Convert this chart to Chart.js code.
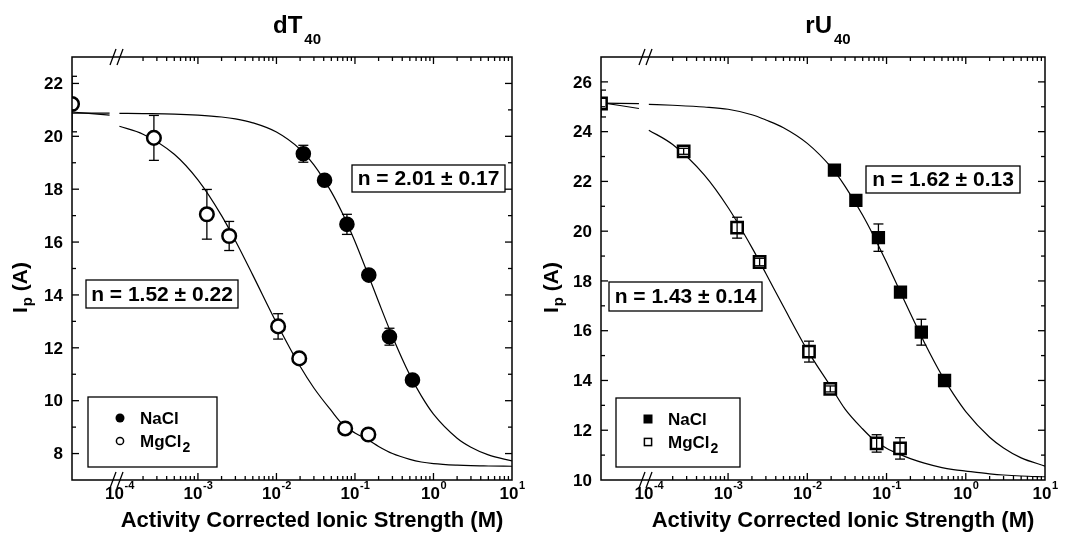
<!DOCTYPE html>
<html>
<head>
<meta charset="utf-8">
<script src="https://cdn.jsdelivr.net/npm/chart.js@4/dist/chart.umd.min.js"></script>
<style>
  html, body { margin: 0; padding: 0; background: #fff; }
  #wrap { position: relative; width: 1066px; height: 535px; overflow: hidden; }
  canvas { position: absolute; top: 0; }
  #c1 { left: 0; }
  #c2 { left: 533px; }
</style>
</head>
<body>
<div id="wrap">
  <canvas id="c1" width="545" height="535"></canvas>
  <canvas id="c2" width="533" height="535"></canvas>
</div>
<script>
// ionic strength of the measured points (M); first MgCl2 point is the no-salt value at the axis break
const naclX = [0.022, 0.041, 0.079, 0.15, 0.275, 0.54];
const mgX = [2.49e-5, 2.75e-4, 1.3e-3, 2.5e-3, 0.0105, 0.0195, 0.075, 0.148];

// dT40
const dtNaclY = [19.34, 18.34, 16.67, 14.75, 12.42, 10.78];
const dtNaclErr = [0.32, 0.12, 0.38, 0.12, 0.32, 0.12];
const dtMgY = [21.22, 19.94, 17.05, 16.23, 12.81, 11.60, 8.95, 8.72];
const dtMgErr = [1.05, 0.85, 0.94, 0.55, 0.48, 0.15, 0.18, 0.18];

// rU40
const ruNaclY = [22.45, 21.24, 19.74, 17.55, 15.94, 14.00];
const ruNaclErr = [0.15, 0.15, 0.55, 0.15, 0.52, 0.15];
const ruMgY = [25.13, 23.21, 20.14, 18.76, 15.16, 13.66, 11.47, 11.27];
const ruMgErr = [0.54, 0.12, 0.42, 0.15, 0.42, 0.12, 0.35, 0.43];

// fitted curves
const preX = [2.49e-5, 7.5e-5];
const fitX = [1e-4, 2e-4, 5e-4, 1e-3, 2e-3, 3e-3, 5e-3, 0.01, 0.02, 0.03, 0.05, 0.07, 0.1, 0.15, 0.2, 0.3, 0.5, 0.7, 1, 2, 3, 5, 10];
const dtNaclPre = [20.88, 20.88];
const dtMgPre = [20.92, 20.80];
const dtNaclFit = [20.87, 20.86, 20.84, 20.80, 20.73, 20.66, 20.51, 20.16, 19.51, 18.92, 17.90, 17.06, 16.02, 14.70, 13.74, 12.43, 10.97, 10.18, 9.49, 8.58, 8.24, 7.95, 7.72];
const dtMgFit = [20.38, 20.08, 19.32, 18.35, 17.00, 16.05, 14.75, 12.95, 11.30, 10.48, 9.62, 9.10, 8.78, 8.50, 8.27, 8.00, 7.78, 7.68, 7.62, 7.56, 7.54, 7.53, 7.52];
const ruNaclPre = [25.15, 25.13];
const ruMgPre = [25.17, 24.93];
const ruNaclFit = [25.10, 25.06, 24.99, 24.90, 24.68, 24.47, 24.16, 23.53, 22.57, 21.80, 20.64, 19.76, 18.75, 17.55, 16.69, 15.53, 14.20, 13.45, 12.75, 11.72, 11.29, 10.89, 10.56];
const ruMgFit = [24.06, 23.48, 22.26, 20.95, 19.34, 18.30, 16.97, 15.22, 13.73, 12.85, 12.05, 11.60, 11.28, 11.02, 10.86, 10.68, 10.50, 10.42, 10.36, 10.25, 10.20, 10.16, 10.13];

// ticks
const xDecades = [-4, -3, -2, -1, 0, 1];
const dtYTicks = [8, 10, 12, 14, 16, 18, 20, 22];
const ruYTicks = [10, 12, 14, 16, 18, 20, 22, 24, 26];

const FONT = '"Liberation Sans", Arial, sans-serif';

function pts(xs, ys) {
    return xs.map((x, i) => ({ x: x, y: ys[i] }));
}

function curve(pre, fit) {
    return pts(preX, pre).concat([{ x: 8.7e-5, y: null }], pts(fitX, fit));
}

function line(ctx, x1, y1, x2, y2) {
    ctx.beginPath();
    ctx.moveTo(x1, y1);
    ctx.lineTo(x2, y2);
    ctx.stroke();
}

function makePlugin(p) {
    function errorBars(chart) {
        const ctx = chart.ctx, a = chart.chartArea;
        const xs = chart.scales.x, ys = chart.scales.y;
        ctx.save();
        ctx.beginPath();
        ctx.rect(a.left, a.top, a.right - a.left, a.bottom - a.top);
        ctx.clip();
        ctx.strokeStyle = '#000';
        ctx.lineWidth = 1.3;
        [[naclX, p.naclY, p.naclErr], [mgX, p.mgY, p.mgErr]].forEach(([xv, yv, ev]) => {
            xv.forEach((x, i) => {
                const px = xs.getPixelForValue(x);
                const y1 = ys.getPixelForValue(yv[i] + ev[i]);
                const y2 = ys.getPixelForValue(yv[i] - ev[i]);
                line(ctx, px, y1, px, y2);
                line(ctx, px - 5, y1, px + 5, y1);
                line(ctx, px - 5, y2, px + 5, y2);
            });
        });
        ctx.restore();
    }

    return {
        id: 'panelDecor',
        beforeDatasetsDraw(chart) {
            if (!p.barsOnTop) errorBars(chart);
        },
        afterDatasetsDraw(chart) {
            const ctx = chart.ctx, a = chart.chartArea;
            if (p.barsOnTop) errorBars(chart);
            // the no-salt point sits on the left axis: keep only the part inside the frame
            ctx.save();
            ctx.fillStyle = '#fff';
            ctx.fillRect(0, a.top - 12, a.left - 0.5, a.bottom - a.top + 12);
            ctx.restore();
        },
        afterDraw(chart) {
            const ctx = chart.ctx, a = chart.chartArea;
            const xs = chart.scales.x, ys = chart.scales.y;
            ctx.save();
            ctx.strokeStyle = '#000';
            ctx.fillStyle = '#000';

            // frame
            ctx.lineWidth = 1.5;
            ctx.strokeRect(a.left, a.top, a.right - a.left, a.bottom - a.top);

            // y ticks, inward on both sides
            ctx.lineWidth = 1.3;
            for (let v = Math.floor(p.ymin) + 1; v < p.ymax; v++) {
                const py = ys.getPixelForValue(v);
                const len = v % 2 === 0 ? 7 : 4;
                line(ctx, a.left, py, a.left + len, py);
                line(ctx, a.right, py, a.right - len, py);
            }
            // x ticks, inward top and bottom
            xDecades.forEach(d => {
                if (d >= 1) return;
                for (let k = 1; k <= 9; k++) {
                    const v = k * Math.pow(10, d);
                    if (v < 1.5e-4) continue;
                    const px = xs.getPixelForValue(v);
                    const len = k === 1 ? 7 : 4;
                    line(ctx, px, a.bottom, px, a.bottom - len);
                    line(ctx, px, a.top, px, a.top + len);
                }
            });

            // axis break marks
            [a.top, a.bottom].forEach(y => {
                [41, 48].forEach(dx => {
                    line(ctx, a.left + dx - 3, y + 8, a.left + dx + 3, y - 8);
                });
            });

            // y tick labels
            ctx.font = 'bold 17px ' + FONT;
            ctx.textAlign = 'right';
            ctx.textBaseline = 'middle';
            p.yTicks.forEach(v => {
                ctx.fillText(String(v), a.left - 9, ys.getPixelForValue(v) + 1);
            });

            // x tick labels 10^n
            ctx.textAlign = 'left';
            ctx.textBaseline = 'alphabetic';
            xDecades.forEach(d => {
                const px = xs.getPixelForValue(Math.pow(10, d));
                ctx.font = 'bold 17px ' + FONT;
                const w1 = ctx.measureText('10').width;
                ctx.font = 'bold 11px ' + FONT;
                const w2 = ctx.measureText(String(d)).width;
                const x0 = px - (w1 + w2) / 2;
                ctx.font = 'bold 17px ' + FONT;
                ctx.fillText('10', x0, 499);
                ctx.font = 'bold 11px ' + FONT;
                ctx.fillText(String(d), x0 + w1 + 0.5, 489);
            });

            // x axis title
            ctx.font = 'bold 22px ' + FONT;
            ctx.textAlign = 'center';
            ctx.fillText('Activity Corrected Ionic Strength (M)', (a.left + a.right) / 2 + 20, 527);

            // title with subscript
            ctx.textAlign = 'left';
            ctx.font = 'bold 24px ' + FONT;
            const tw1 = ctx.measureText(p.title[0]).width;
            ctx.font = 'bold 15px ' + FONT;
            const tw2 = ctx.measureText(p.title[1]).width;
            const tx = (a.left + a.right) / 2 + 5 - (tw1 + tw2 + 2) / 2;
            ctx.font = 'bold 24px ' + FONT;
            ctx.fillText(p.title[0], tx, 33);
            ctx.font = 'bold 15px ' + FONT;
            ctx.fillText(p.title[1], tx + tw1 + 2, 44);

            // y axis title "Ip (A)"
            ctx.save();
            ctx.translate(p.yTitleX, 313);
            ctx.rotate(-Math.PI / 2);
            ctx.font = 'bold 21px ' + FONT;
            ctx.fillText('I', 0, 0);
            let yw = ctx.measureText('I').width + 1;
            ctx.font = 'bold 15px ' + FONT;
            ctx.fillText('p', yw, 5);
            yw += ctx.measureText('p').width;
            ctx.font = 'bold 21px ' + FONT;
            ctx.fillText(' (A)', yw, 0);
            ctx.restore();

            // boxed fit results
            p.boxes.forEach(b => {
                ctx.fillStyle = '#fff';
                ctx.fillRect(b.x, b.y, b.w, b.h);
                ctx.fillStyle = '#000';
                ctx.lineWidth = 1.3;
                ctx.strokeRect(b.x, b.y, b.w, b.h);
                ctx.font = 'bold 21px ' + FONT;
                ctx.textAlign = 'center';
                ctx.textBaseline = 'middle';
                ctx.fillText(b.text, b.x + b.w / 2, b.y + b.h / 2 + 1);
            });

            // legend
            const L = p.legend;
            ctx.fillStyle = '#fff';
            ctx.fillRect(L.x, L.y, L.w, L.h);
            ctx.fillStyle = '#000';
            ctx.lineWidth = 1.3;
            ctx.strokeRect(L.x, L.y, L.w, L.h);
            const rows = [L.y + 21, L.y + 44];
            rows.forEach((ry, i) => {
                const mx = L.x + 32;
                ctx.lineWidth = 1.5;
                if (p.style === 'circle') {
                    ctx.beginPath();
                    ctx.arc(mx, ry, i === 0 ? 4.5 : 3.6, 0, Math.PI * 2);
                    if (i === 0) ctx.fill(); else ctx.stroke();
                } else {
                    if (i === 0) ctx.fillRect(mx - 4.5, ry - 4.5, 9, 9);
                    else ctx.strokeRect(mx - 3.6, ry - 3.6, 7.2, 7.2);
                }
                ctx.textAlign = 'left';
                ctx.textBaseline = 'alphabetic';
                ctx.font = 'bold 17px ' + FONT;
                const tx0 = L.x + 52;
                if (i === 0) {
                    ctx.fillText('NaCl', tx0, ry + 6);
                } else {
                    ctx.fillText('MgCl', tx0, ry + 6);
                    const w = ctx.measureText('MgCl').width;
                    ctx.font = 'bold 14px ' + FONT;
                    ctx.fillText('2', tx0 + w + 1, ry + 11);
                }
            });
            ctx.restore();
        }
    };
}

function buildPanel(p) {
    const canvas = document.getElementById(p.canvas);
    const datasets = [
        {
            type: 'scatter', label: 'NaCl', data: pts(naclX, p.naclY),
            pointStyle: p.style, pointRadius: p.r, borderWidth: 2,
            backgroundColor: '#000', borderColor: '#000', clip: 0
        },
        {
            type: 'scatter', label: 'MgCl2', data: pts(mgX, p.mgY),
            pointStyle: p.style, pointRadius: p.r, borderWidth: 2.5,
            backgroundColor: '#fff', borderColor: '#000', clip: 0
        },
        {
            type: 'line', label: 'NaCl fit', data: curve(p.naclPre, p.naclFit),
            pointRadius: 0, borderColor: '#000', borderWidth: 1.2, fill: false,
            cubicInterpolationMode: 'monotone', spanGaps: false
        },
        {
            type: 'line', label: 'MgCl2 fit', data: curve(p.mgPre, p.mgFit),
            pointRadius: 0, borderColor: '#000', borderWidth: 1.2, fill: false,
            cubicInterpolationMode: 'monotone', spanGaps: false
        }
    ];

    new Chart(canvas, {
        type: 'scatter',
        data: { datasets: datasets },
        options: {
            responsive: false,
            animation: false,
            events: [],
            layout: {
                padding: { left: p.left, right: canvas.width - p.right, top: 57, bottom: 55 }
            },
            plugins: { legend: { display: false }, title: { display: false }, tooltip: { enabled: false } },
            scales: {
                x: { type: 'logarithmic', min: 2.49e-5, max: 10, display: false },
                y: { type: 'linear', min: p.ymin, max: p.ymax, display: false }
            }
        },
        plugins: [makePlugin(p)]
    });
}

buildPanel({
    canvas: 'c1', left: 72, right: 512, ymin: 7, ymax: 23, yTicks: dtYTicks,
    title: ['dT', '40'], style: 'circle', r: 6.8, barsOnTop: false, yTitleX: 27,
    naclY: dtNaclY, naclErr: dtNaclErr, mgY: dtMgY, mgErr: dtMgErr,
    naclPre: dtNaclPre, mgPre: dtMgPre, naclFit: dtNaclFit, mgFit: dtMgFit,
    boxes: [
        { text: 'n = 2.01 \u00b1 0.17', x: 352, y: 165, w: 153, h: 27 },
        { text: 'n = 1.52 \u00b1 0.22', x: 86, y: 280, w: 152, h: 28 }
    ],
    legend: { x: 88, y: 397, w: 129, h: 70 }
});

buildPanel({
    canvas: 'c2', left: 68, right: 512, ymin: 10, ymax: 27, yTicks: ruYTicks,
    title: ['rU', '40'], style: 'rect', r: 8, barsOnTop: true, yTitleX: 25,
    naclY: ruNaclY, naclErr: ruNaclErr, mgY: ruMgY, mgErr: ruMgErr,
    naclPre: ruNaclPre, mgPre: ruMgPre, naclFit: ruNaclFit, mgFit: ruMgFit,
    boxes: [
        { text: 'n = 1.62 \u00b1 0.13', x: 333, y: 166, w: 154, h: 27 },
        { text: 'n = 1.43 \u00b1 0.14', x: 76, y: 282, w: 153, h: 29 }
    ],
    legend: { x: 83, y: 398, w: 124, h: 69 }
});
</script>
</body>
</html>
